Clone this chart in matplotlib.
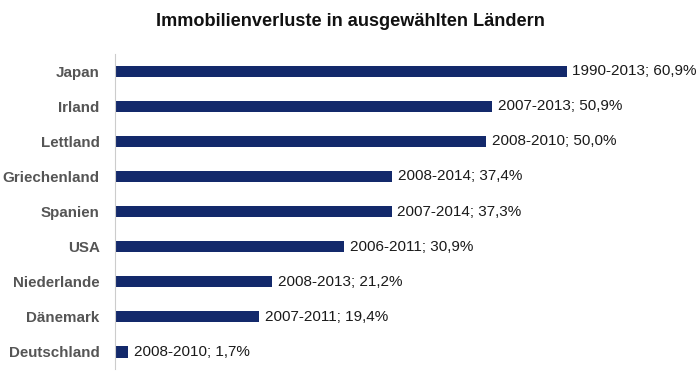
import matplotlib
matplotlib.use("Agg")
from matplotlib import pyplot as plt

countries = ["Japan", "Irland", "Lettland", "Griechenland", "Spanien", "USA",
             "Niederlande", "Dänemark", "Deutschland"]
periods = ["1990-2013", "2007-2013", "2008-2010", "2008-2014", "2007-2014",
           "2006-2011", "2008-2013", "2007-2011", "2008-2010"]
losses = [60.9, 50.9, 50.0, 37.4, 37.3, 30.9, 21.2, 19.4, 1.7]

plt.rcParams['font.family'] = ['Liberation Sans', 'DejaVu Sans']

fig = plt.figure(figsize=(7, 3.91), dpi=100)
ax = fig.add_axes([115 / 700, 0.055, 585 / 700, 0.808])

pos = list(range(len(countries)))
ax.barh(pos, losses, height=0.32, color='#13296b')
for y, v, p in zip(pos, losses, periods):
    label = f"{p}; {v:.1f}%".replace('.', ',')
    ax.text(v + 0.8, y, label, va='center', ha='left', fontsize=11, color='#1a1a1a')

ax.set_ylim(len(countries) - 0.5, -0.5)
ax.set_xlim(0, 78.9)
ax.set_yticks(pos)
ax.set_yticklabels(countries, fontsize=10.9, fontweight='bold', color='#555555')
ax.tick_params(axis='y', length=0, pad=11)
ax.set_xticks([])
for side in ['top', 'right', 'bottom']:
    ax.spines[side].set_visible(False)
ax.spines['left'].set_color('#cccccc')

fig.text(0.5, 1 - 22 / 391, "Immobilienverluste in ausgewählten Ländern",
         ha='center', va='center', fontsize=13.1, fontweight='bold', color='#111111')

fig.savefig("out.png", dpi=100)
